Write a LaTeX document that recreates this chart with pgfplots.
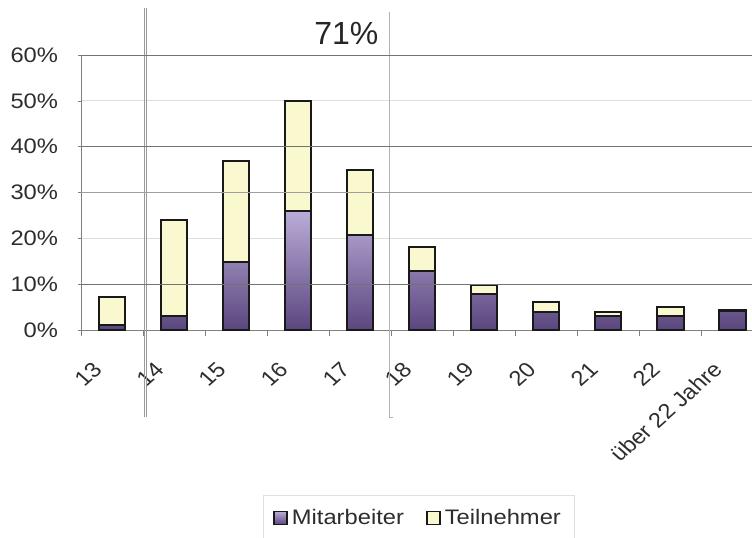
\documentclass[border=0pt]{standalone}
\usepackage{fontspec}
\setmainfont{Liberation Sans}
\usepackage{graphicx}
\usepackage{pgfplots}
\pgfplotsset{compat=1.18}

% age distribution: staff (Mitarbeiter) and participants (Teilnehmer), in percent
\pgfplotstableread{
idx mit teil
0   1.1  6.0
1   3.0  21.0
2   14.9 22.0
3   26.0 24.0
4   20.8 14.1
5   12.8 5.2
6   7.9  1.9
7   3.9  2.1
8   3.0  0.9
9   3.1  2.0
10  4.1  0.3
}\agedata

\definecolor{purpletop}{RGB}{186,172,216}
\definecolor{purplebot}{RGB}{90,70,126}
\definecolor{paleyellow}{RGB}{250,248,206}
\definecolor{labelgray}{RGB}{45,45,45}
\newcommand{\wide}[1]{\scalebox{1.13}[1]{#1}}

\begin{document}
\begin{tikzpicture}
\begin{axis}[
  name=ax,
  set layers,
  scale only axis,
  width=335.5pt, height=137.5pt,
  xmin=-0.5, xmax=10.32,
  ymin=0, ymax=60,
  enlargelimits=false,
  clip=false,
  ybar stacked,
  bar width=13.35pt,
  axis x line*=bottom,
  axis y line*=left,
  axis line style={-, black!50},
  tick align=outside,
  xtick={0,...,10},
  xticklabels={13,14,15,16,17,18,19,20,21,22,über 22 Jahre},
  major x tick style={draw=none},
  minor xtick={-0.5,0.5,...,9.5},
  minor x tick style={black!50},
  minor tick length=3pt,
  ytick={0,10,...,60},
  yticklabels={0\%,10\%,20\%,30\%,40\%,50\%,60\%},
  major y tick style={black!50},
  major tick length=1.5pt,
  ymajorgrids,
  major grid style={black!13},
  tick label style={font=\fontsize{10.5}{12}\selectfont, text=labelgray},
  yticklabel style={xshift=-6pt, xscale=1.13},
  xticklabel style={xshift=-4.5pt, yshift=-14pt, xscale=1.13, rotate=45, anchor=east},
  legend columns=2,
  legend style={at={(0.5037,-0.6836)}, anchor=center, draw=black!12,
    font=\fontsize{10.5}{12}\selectfont, text=labelgray,
    inner xsep=5pt, inner ysep=4.5pt,
    /tikz/every even column/.append style={column sep=9pt}},
  legend image code/.code={\draw[#1, line width=0.8pt] (0pt,-3.3pt) rectangle (6.6pt,3.3pt);},
]
% darker grid lines
\draw[on layer=axis grid, black!38] (axis cs:-0.5,30) -- (axis cs:10.32,30);
\draw[on layer=axis grid, black!55] (axis cs:-0.5,10) -- (axis cs:10.32,10);
\draw[on layer=axis grid, black!55] (axis cs:-0.5,40) -- (axis cs:10.32,40);
\draw[on layer=axis grid, black!55] (axis cs:-0.5,60) -- (axis cs:10.32,60);

\addplot[draw=black!90, line width=1pt, top color=purpletop, bottom color=purplebot]
  table[x=idx, y=mit] {\agedata};
\addlegendentry{\wide{Mitarbeiter}}
\addplot[draw=black!90, line width=1pt, fill=paleyellow]
  table[x=idx, y=teil] {\agedata};
\addlegendentry{\wide{Teilnehmer}}

% bracket lines marking ages 14 to 17
\draw[black!40, line width=0.4pt]
  (axis cs:0.515,70.3) -- (axis cs:0.515,-19.0);
\draw[black!40, line width=0.4pt]
  (axis cs:0.555,70.3) -- (axis cs:0.555,-19.0);
\draw[black!30, line width=0.5pt]
  (axis cs:4.47,69.4) -- (axis cs:4.47,-19.2) -- (axis cs:4.53,-19.2);
\node[anchor=base, font=\fontsize{16}{18}\selectfont, text=black!85]
  at (axis cs:3.78,62.2) {71\%};
\end{axis}
\pgfresetboundingbox
\path (ax.south west) ++(-40.5pt,-104pt) rectangle ([yshift=27.5pt]ax.north east);
\end{tikzpicture}
\end{document}
